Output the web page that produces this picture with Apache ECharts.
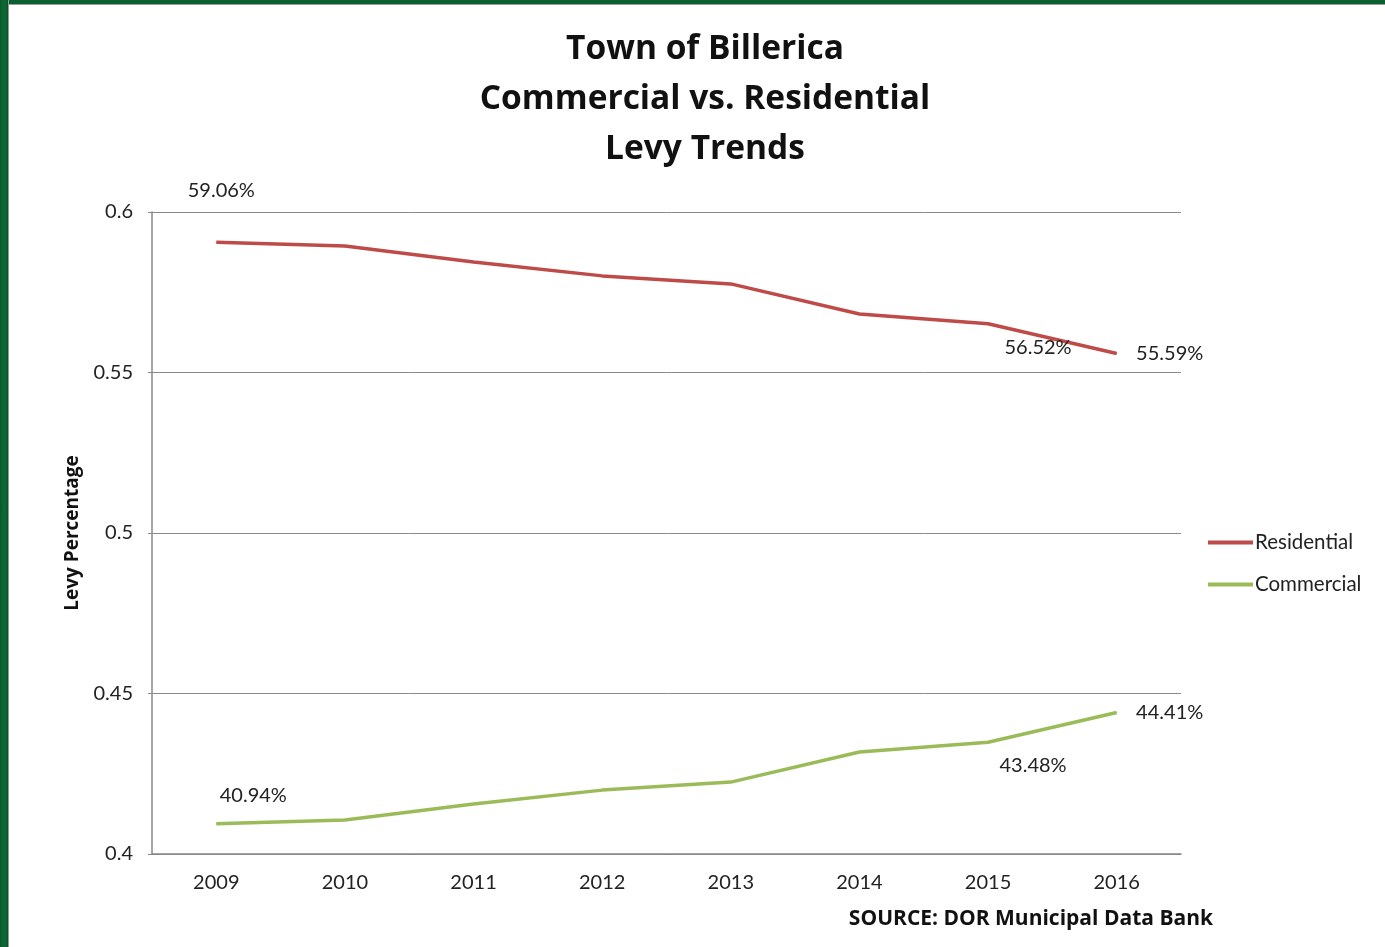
<!DOCTYPE html>
<html>
<head>
<meta charset="utf-8">
<script src="https://cdn.jsdelivr.net/npm/echarts@6/dist/echarts.min.js"></script>
<style>
  html, body { margin: 0; padding: 0; background: #fff; }
  #chart { position: absolute; left: 0; top: 0; width: 1385px; height: 947px; }
  #bandL { position: absolute; left: 0; top: 0; width: 8px; height: 947px; background: linear-gradient(to right, #0b5a2c, #0d6b35 60%, #0a5229); border-right: 1px solid #9a9a9a; pointer-events: none; }
  #bandT { position: absolute; left: 0; top: 0; width: 1385px; height: 4px; background: #0b5e2f; border-bottom: 1px solid #9a9a9a; pointer-events: none; }
</style>
</head>
<body>
<div id="chart"></div>
<div id="bandT"></div>
<div id="bandL"></div>
<script>
const years = ['2009', '2010', '2011', '2012', '2013', '2014', '2015', '2016'];
const residential = [0.5906, 0.5894, 0.5844, 0.5801, 0.5776, 0.5682, 0.5652, 0.5559];
const commercial = [0.4094, 0.4106, 0.4156, 0.4199, 0.4224, 0.4318, 0.4348, 0.4441];
const yTicks = { min: 0.4, max: 0.6, interval: 0.05 };

const FONT = 'Lato, "Open Sans", sans-serif';
const BFONT = '"Open Sans", Lato, sans-serif';

// label placement per labelled point (index -> offset from point)
const resLabels = { 0: [5, -52], 6: [50, 24], 7: [53, 0] };
const comLabels = { 0: [37, -28], 6: [45, 23], 7: [53, 0] };

function buildData(values, labels) {
  return values.map((v, i) => {
    const item = { value: v };
    if (labels[i]) {
      item.label = {
        show: true,
        position: 'inside',
        offset: labels[i],
        formatter: (p) => (p.value * 100).toFixed(2) + '%',
        fontSize: 20,
        color: '#222',
        fontFamily: FONT
      };
    }
    return item;
  });
}

const chart = echarts.init(document.getElementById('chart'), null, { renderer: 'canvas' });
chart.setOption({
  backgroundColor: '#ffffff',
  animation: false,
  title: {
    text: 'Town of Billerica\nCommercial vs. Residential\nLevy Trends',
    left: 700,
    top: 19,
    textAlign: 'center',
    textStyle: {
      fontFamily: BFONT,
      fontWeight: 'bold',
      fontSize: 33.5,
      lineHeight: 50,
      color: '#111'
    }
  },
  legend: {
    orient: 'vertical',
    left: 1203,
    top: 527,
    itemWidth: 45,
    itemHeight: 4,
    itemGap: 21,
    icon: 'rect',
    data: ['Residential', 'Commercial'],
    textStyle: { fontSize: 20.5, color: '#222', fontFamily: FONT, padding: [0, 0, 0, -3] }
  },
  grid: { left: 152, right: 204, top: 212, bottom: 93, containLabel: false },
  xAxis: {
    type: 'category',
    data: years,
    boundaryGap: true,
    axisLine: { show: true, lineStyle: { color: '#888', width: 1.5 } },
    axisTick: { show: false },
    axisLabel: { fontSize: 20, color: '#222', margin: 19, fontFamily: FONT }
  },
  yAxis: {
    type: 'value',
    min: yTicks.min,
    max: yTicks.max,
    interval: yTicks.interval,
    name: 'Levy Percentage',
    nameLocation: 'middle',
    nameGap: 70,
    nameTextStyle: { fontSize: 19, fontWeight: 'bold', color: '#111', fontFamily: BFONT },
    axisLine: { show: true, lineStyle: { color: '#888', width: 1.5 } },
    axisTick: { show: true, length: 4, lineStyle: { color: '#888' } },
    axisLabel: { fontSize: 20, color: '#222', margin: 19, fontFamily: FONT },
    splitLine: { show: true, lineStyle: { color: '#8a8a8a', width: 1 } }
  },
  graphic: [{
    type: 'text',
    right: 172,
    top: 909,
    style: {
      text: 'SOURCE: DOR Municipal Data Bank',
      font: 'bold 21px ' + BFONT,
      fill: '#111'
    }
  }],
  series: [
    {
      name: 'Residential',
      type: 'line',
      data: buildData(residential, resLabels),
      symbol: 'circle',
      symbolSize: 1,
      itemStyle: { color: '#BE4B48' },
      lineStyle: { color: '#BE4B48', width: 3.5 }
    },
    {
      name: 'Commercial',
      type: 'line',
      data: buildData(commercial, comLabels),
      symbol: 'circle',
      symbolSize: 1,
      itemStyle: { color: '#9BBB59' },
      lineStyle: { color: '#9BBB59', width: 3.5 }
    }
  ]
});
</script>
</body>
</html>
